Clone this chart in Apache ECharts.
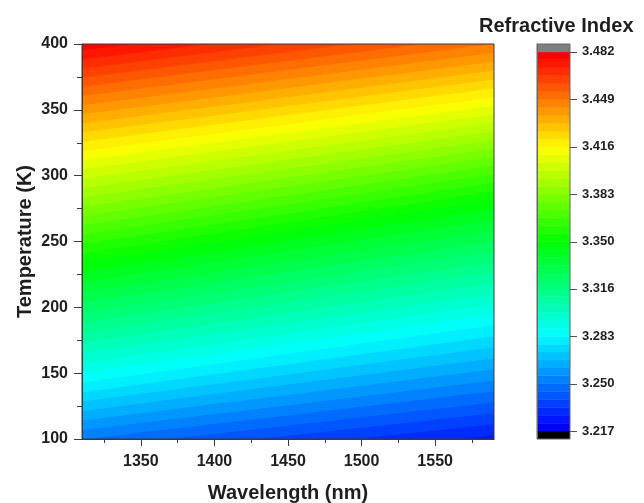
<!DOCTYPE html>
<html><head><meta charset="utf-8">
<script src="https://cdn.jsdelivr.net/npm/echarts@6/dist/echarts.min.js"></script>
<style>html,body{margin:0;padding:0;background:#fff}#c{width:644px;height:503px}</style>
</head><body><div id="c"></div>
<script>
// Contour level boundaries of the refractive index (48 bands between 3.217 and 3.482)
const levels = [3.2170,3.2225,3.2280,3.2336,3.2391,3.2446,3.2501,3.2556,3.2612,3.2667,3.2722,3.2777,3.2833,3.2888,3.2943,3.2998,3.3053,3.3109,3.3164,3.3219,3.3274,3.3329,3.3385,3.3440,3.3495,3.3550,3.3605,3.3661,3.3716,3.3771,3.3826,3.3881,3.3937,3.3992,3.4047,3.4102,3.4157,3.4213,3.4268,3.4323,3.4378,3.4433,3.4489,3.4544,3.4599,3.4654,3.4709,3.4765,3.4820];
// Temperature (K) where each level boundary meets the left edge (1310 nm)
const tempAtLeft = [57.2,64.3,71.5,78.7,85.9,93.0,100.1,107.3,114.5,121.7,128.8,135.9,143.2,150.7,158.3,165.9,173.5,181.2,188.8,196.3,203.9,211.5,219.2,226.8,234.3,241.4,248.4,255.6,262.7,269.7,276.7,283.8,291.0,298.0,305.1,312.1,319.1,326.1,333.1,340.0,346.9,353.8,360.9,367.8,374.7,381.6,388.5,395.6,402.5];
// Temperature (K) where each level boundary meets the right edge (1590 nm)
const tempAtRight = [86.3,94.7,103.0,111.5,119.9,128.2,136.6,144.9,153.4,161.8,170.1,178.5,186.9,194.9,202.8,210.7,218.6,226.7,234.6,242.5,250.4,258.3,266.4,274.3,282.1,288.6,295.0,301.6,308.1,314.5,321.0,327.4,334.0,340.5,347.0,353.4,360.0,366.8,373.5,380.2,386.9,393.7,400.5,407.2,413.9,420.6,427.3,434.1,440.8];
const wavelengthRange = [1310, 1590];
const tempRange = [100, 400];
const xTicks = [1350, 1400, 1450, 1500, 1550];
const xMinorTicks = [1325, 1375, 1425, 1475, 1525, 1575];
const colorbarTickLabels = ['3.217','3.250','3.283','3.316','3.350','3.383','3.416','3.449','3.482'];

const nBands = levels.length - 1;
const bandsPerTick = nBands / (colorbarTickLabels.length - 1);
const FONT = '"Liberation Sans", Arial, sans-serif';
const TXT = '#1e1e1e';
const LINE = '#3a3a3a';

function rainbow(t) {
  let r, g, b;
  if (t < 0.25) { r = 0; g = 255 * t / 0.25; b = 255; }
  else if (t < 0.5) { r = 0; g = 255; b = 255 * (1 - (t - 0.25) / 0.25); }
  else if (t < 0.75) { r = 255 * (t - 0.5) / 0.25; g = 255; b = 0; }
  else { r = 255; g = 255 * (1 - (t - 0.75) / 0.25); b = 0; }
  return 'rgb(' + Math.round(r) + ',' + Math.round(g) + ',' + Math.round(b) + ')';
}
function bandColor(k) {
  if (k < 0) return '#000000';
  if (k >= nBands) return '#808080';
  return rainbow((levels[k] - levels[0]) / (levels[nBands - 1] - levels[0]));
}

const bandIndex = [];
for (let k = -1; k <= nBands; k++) bandIndex.push([k, 0]);
const cbTickPos = colorbarTickLabels.map((_, i) => i * bandsPerTick);

const chart = echarts.init(document.getElementById('c'), null, { renderer: 'canvas' });

chart.setOption({
  animation: false,
  backgroundColor: '#fff',
  title: {
    text: 'Refractive Index', left: 474, top: 11,
    textStyle: { fontFamily: FONT, fontSize: 20, fontWeight: 'bold', color: TXT }
  },
  grid: [
    { left: 82, top: 44, width: 412, height: 395, containLabel: false, outerBoundsMode: 'none',
      show: true, z: 10, backgroundColor: 'transparent', borderColor: LINE, borderWidth: 1 },
    { left: 537, top: 44, width: 33, height: 395, containLabel: false, outerBoundsMode: 'none',
      show: true, z: 10, backgroundColor: 'transparent', borderColor: '#666', borderWidth: 1 }
  ],
  xAxis: [
    { gridIndex: 0, type: 'value', min: wavelengthRange[0], max: wavelengthRange[1], position: 'bottom', z: 10,
      name: 'Wavelength (nm)', nameLocation: 'middle', nameGap: 44, nameMoveOverlap: false,
      nameTextStyle: { fontFamily: FONT, fontSize: 20, fontWeight: 'bold', color: TXT },
      axisLine: { show: true, lineStyle: { color: LINE, width: 1 } },
      axisTick: { show: true, inside: false, length: 7, customValues: xTicks, lineStyle: { color: LINE } },
      axisLabel: { customValues: xTicks, margin: 15, formatter: v => String(v),
        fontFamily: FONT, fontSize: 16, fontWeight: 'bold', color: TXT },
      splitLine: { show: false } },
    { gridIndex: 0, type: 'value', min: wavelengthRange[0], max: wavelengthRange[1], position: 'bottom', z: 10,
      axisLine: { show: false },
      axisTick: { show: true, inside: false, length: 4, customValues: xMinorTicks, lineStyle: { color: LINE } },
      axisLabel: { show: false }, splitLine: { show: false } },
    { gridIndex: 1, type: 'value', min: 0, max: 1, show: false }
  ],
  yAxis: [
    { gridIndex: 0, type: 'value', min: tempRange[0], max: tempRange[1], interval: 50, position: 'left', z: 10,
      name: 'Temperature (K)', nameLocation: 'middle', nameGap: 47, nameMoveOverlap: false,
      nameTextStyle: { fontFamily: FONT, fontSize: 20, fontWeight: 'bold', color: TXT },
      axisLine: { show: true, lineStyle: { color: LINE, width: 1 } },
      axisTick: { show: true, inside: false, length: 8, lineStyle: { color: LINE } },
      minorTick: { show: true, splitNumber: 2, length: 5, lineStyle: { color: LINE } },
      axisLabel: { margin: 14, fontFamily: FONT, fontSize: 16, fontWeight: 'bold', color: TXT },
      splitLine: { show: false } },
    { gridIndex: 1, type: 'value', min: -1, max: nBands + 1, position: 'right', z: 10,
      axisLine: { show: true, lineStyle: { color: '#666', width: 1 } },
      axisTick: { show: false },
      axisLabel: { customValues: cbTickPos, margin: 12,
        formatter: v => colorbarTickLabels[Math.round(v / bandsPerTick)],
        fontFamily: FONT, fontSize: 13, fontWeight: 'bold', color: TXT },
      splitLine: { show: false } }
  ],
  series: [
    { type: 'custom', xAxisIndex: 0, yAxisIndex: 0, clip: true, data: bandIndex, z: 2,
      renderItem: function (params, api) {
        const k = api.value(0);
        const x0 = wavelengthRange[0], x1 = wavelengthRange[1];
        const ext = tempRange[1] - tempRange[0];
        const lowL = k < 0 ? tempAtLeft[0] - ext : tempAtLeft[k];
        const lowR = k < 0 ? tempAtRight[0] - ext : tempAtRight[k];
        const upL = k >= nBands ? tempAtLeft[nBands] + ext : tempAtLeft[k + 1];
        const upR = k >= nBands ? tempAtRight[nBands] + ext : tempAtRight[k + 1];
        const c = bandColor(k);
        return { type: 'polygon',
          shape: { points: [api.coord([x0, lowL]), api.coord([x1, lowR]), api.coord([x1, upR]), api.coord([x0, upL])] },
          style: { fill: c, stroke: c, lineWidth: 1 } };
      } },
    { type: 'custom', xAxisIndex: 2, yAxisIndex: 1, clip: true, data: bandIndex, z: 2,
      renderItem: function (params, api) {
        const k = api.value(0);
        const p0 = api.coord([0, k + 1]);
        const p1 = api.coord([1, k]);
        const c = bandColor(k);
        return { type: 'rect',
          shape: { x: p0[0], y: p0[1], width: p1[0] - p0[0], height: p1[1] - p0[1] },
          style: { fill: c, stroke: c, lineWidth: 0.5 } };
      } },
    { type: 'custom', xAxisIndex: 2, yAxisIndex: 1, clip: false, z: 12,
      data: cbTickPos.map(v => [1, v]),
      renderItem: function (params, api) {
        const p = api.coord([api.value(0), api.value(1)]);
        const y = Math.round(p[1]) + 0.5;
        return { type: 'line', shape: { x1: p[0], y1: y, x2: p[0] + 7, y2: y },
          style: { stroke: '#555', lineWidth: 1 } };
      } }
  ]
});
</script>
</body></html>
